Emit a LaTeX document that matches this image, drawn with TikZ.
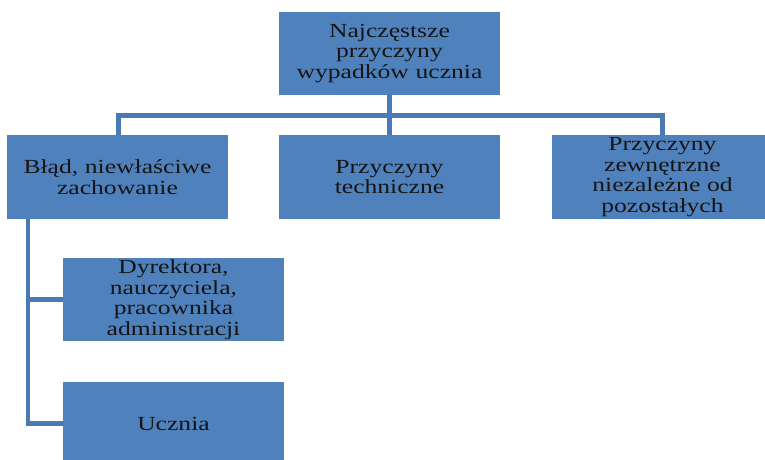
\documentclass[tikz,border=0pt]{standalone}
\usepackage{fontspec}
\setmainfont[FakeStretch=1.28]{Liberation Serif}
\definecolor{boxblue}{HTML}{4F81BD}
\definecolor{lineblue}{HTML}{4A7AB5}
\definecolor{txt}{HTML}{151515}
\tikzset{
  orgbox/.style={fill=boxblue, draw=none, minimum width=221pt, inner sep=0pt,
    text width=215pt, align=center, text=txt,
    font=\fontsize{20}{20.5}\selectfont},
  conn/.style={draw=lineblue, line width=4.5pt}
}
\begin{document}
\begin{tikzpicture}[x=1pt,y=-1pt]
\path[use as bounding box] (0,0) rectangle (765,459);
\clip (0,0) rectangle (765,459);
\node[orgbox, minimum height=83pt] (top) at (389.5,53.5) {Najczęstsze\\przyczyny\\wypadków ucznia};
\node[orgbox, minimum height=84pt] (b1) at (117.5,177) {Błąd, niewłaściwe\\zachowanie};
\node[orgbox, minimum height=84pt] (b2) at (389.5,177) {Przyczyny\\techniczne};
\node[orgbox, minimum height=84pt] (b3) at (662.5,177) {Przyczyny\\zewnętrzne\\niezależne od\\pozostałych};
\node[orgbox, minimum height=83pt] (c1) at (173.5,299.5) {Dyrektora,\\nauczyciela,\\pracownika\\administracji};
\node[orgbox, minimum height=83pt] (c2) at (173.5,423.5) {Ucznia};
\coordinate (h) at (389.5,115.5);
\draw[conn] (top.south) -- (b2.north);
\draw[conn] (b1.north -| 118.5,0) |- (h) -| (b3.north);
\draw[conn] (b1.south -| 28,0) |- (c2.west);
\draw[conn] (28,0 |- c1.west) -- (c1.west);
\end{tikzpicture}
\end{document}
